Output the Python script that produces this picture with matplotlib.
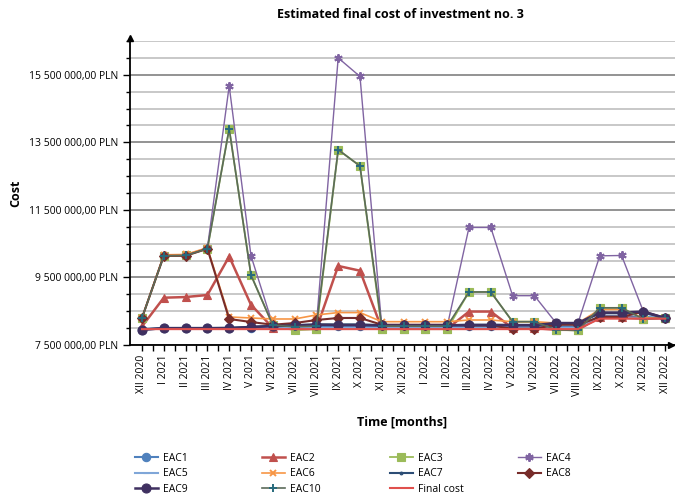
import numpy as np
import matplotlib
matplotlib.use("Agg")
import matplotlib.pyplot as plt
from matplotlib.ticker import FixedLocator, FuncFormatter, MultipleLocator

plt.rcParams["font.family"] = ["Open Sans", "DejaVu Sans"]

months = [
    "XII 2020", "I 2021", "II 2021", "III 2021", "IV 2021", "V 2021",
    "VI 2021", "VII 2021", "VIII 2021", "IX 2021", "X 2021", "XI 2021",
    "XII 2021", "I 2022", "II 2022", "III 2022", "IV 2022", "V 2022",
    "VI 2022", "VII 2022", "VIII 2022", "IX 2022", "X 2022", "XI 2022",
    "XII 2022",
]

# estimates in millions of PLN
eac1 = [7.95, 7.99, 7.99, 7.99, 7.99, 8.01, 8.03, 8.04, 8.05, 8.06, 8.06, 8.05, 8.05,
        8.05, 8.05, 8.06, 8.06, 8.04, 8.04, 8.05, 8.05, 8.36, 8.36, 8.33, 8.30]
eac2 = [8.05, 8.90, 8.92, 8.98, 10.12, 8.69, 8.01, 7.97, 7.98, 9.84, 9.70, 7.98, 7.98,
        7.98, 7.98, 8.49, 8.49, 8.00, 8.00, 7.95, 7.95, 8.33, 8.33, 8.27, 8.30]
eac3 = [8.30, 10.14, 10.15, 10.35, 13.90, 9.57, 8.09, 7.94, 7.97, 13.28, 12.80, 7.97, 7.97,
        7.97, 7.97, 9.07, 9.07, 8.19, 8.19, 7.95, 7.93, 8.60, 8.60, 8.27, 8.30]
eac4 = [8.30, 10.17, 10.17, 10.37, 15.17, 10.14, 8.10, 8.06, 8.10, 16.00, 15.45, 8.05, 8.05,
        8.05, 8.05, 10.98, 10.98, 8.96, 8.96, 8.15, 8.15, 10.14, 10.15, 8.49, 8.30]
eac5 = [7.98, 7.99, 7.99, 7.99, 7.99, 8.00, 8.00, 8.00, 8.00, 8.01, 8.01, 8.00, 8.00,
        8.00, 8.00, 8.01, 8.01, 8.00, 8.00, 8.00, 8.00, 8.30, 8.30, 8.28, 8.30]
eac6 = [8.30, 10.17, 10.18, 10.38, 8.33, 8.30, 8.27, 8.27, 8.39, 8.46, 8.46, 8.19, 8.19,
        8.19, 8.19, 8.24, 8.24, 8.19, 8.19, 8.15, 8.15, 8.55, 8.55, 8.30, 8.30]
eac7 = [7.96, 8.00, 8.00, 8.00, 8.01, 8.04, 8.07, 8.09, 8.11, 8.11, 8.11, 8.09, 8.09,
        8.09, 8.09, 8.10, 8.10, 8.09, 8.09, 8.14, 8.14, 8.44, 8.44, 8.45, 8.30]
eac8 = [8.30, 10.14, 10.14, 10.35, 8.27, 8.18, 8.10, 8.15, 8.24, 8.30, 8.30, 8.10, 8.10,
        8.10, 8.10, 8.08, 8.08, 7.98, 7.98, 8.10, 8.10, 8.33, 8.33, 8.49, 8.30]
eac9 = [7.95, 8.00, 8.00, 8.00, 8.00, 8.03, 8.06, 8.08, 8.10, 8.09, 8.09, 8.08, 8.08,
        8.08, 8.08, 8.09, 8.09, 8.09, 8.09, 8.15, 8.15, 8.46, 8.46, 8.49, 8.30]
eac10 = [8.30, 10.14, 10.15, 10.35, 13.90, 9.57, 8.09, 8.04, 8.06, 13.28, 12.80, 8.06, 8.06,
         8.06, 8.06, 9.07, 9.07, 8.19, 8.19, 7.95, 7.93, 8.60, 8.60, 8.27, 8.30]
final_cost = [7.97, 7.97, 7.97, 7.97, 7.97, 7.97, 7.97, 7.97, 7.97, 7.97, 7.97, 7.97, 7.97,
              7.97, 7.97, 7.97, 7.97, 7.97, 7.97, 7.97, 7.97, 8.28, 8.28, 8.28, 8.28]

# (label, values, colour, marker, marker size, line width)
series = [
    ("EAC1", eac1, "#4F81BD", "o", 6.0, 1.5),
    ("EAC2", eac2, "#C0504D", "^", 6.0, 1.8),
    ("EAC3", eac3, "#9BBB59", "s", 5.5, 1.3),
    ("EAC4", eac4, "#8064A2", (6, 2, 0), 6.0, 1.0),
    ("EAC5", eac5, "#7FA6D8", "_", 5.0, 1.5),
    ("EAC6", eac6, "#F79646", "x", 5.0, 1.2),
    ("EAC7", eac7, "#2C4D75", ".", 4.0, 1.5),
    ("EAC8", eac8, "#772C2A", "D", 5.0, 1.5),
    ("EAC9", eac9, "#3F3060", "o", 6.5, 1.8),
    ("EAC10", eac10, "#5B6B5A", "+", 6.0, 1.2),
    ("Final cost", final_cost, "#E0504D", "None", 0, 1.5),
]

fig = plt.figure(figsize=(6.75, 4.96), dpi=100)
ax = fig.add_axes([130 / 675, 1 - 345 / 496, 545 / 675, 304 / 496])

x = np.arange(len(months))
handles = {}
for label, vals, color, marker, ms, lw in series:
    y = np.array(vals) * 1e6
    mec = color
    if label == "EAC10":
        mec = "#276A7C"
    (h,) = ax.plot(x, y, color=color, lw=lw, marker=marker, ms=ms,
                   mfc=color, mec=mec, mew=1.4 if marker in ("x", "+", (6, 2, 0)) else 0.8,
                   label=label, clip_on=False)
    handles[label] = h

ax.set_xlim(-0.55, 24.45)
ax.set_ylim(7.5e6, 16.5e6)

ax.yaxis.set_major_locator(FixedLocator(np.arange(7.5e6, 16.6e6, 2e6)))
ax.yaxis.set_minor_locator(MultipleLocator(0.5e6))


def pln(v, pos):
    s = f"{v:,.2f}".replace(",", " ").replace(".", ",")
    return s + " PLN"


ax.yaxis.set_major_formatter(FuncFormatter(pln))
ax.grid(axis="y", which="major", color="#8a8a8a", lw=1.3, zorder=0)
ax.grid(axis="y", which="minor", color="#c4c4c4", lw=1.3, zorder=0)
ax.set_axisbelow(True)

ax.set_xticks(x)
ax.set_xticklabels(months, rotation=90, fontsize=7.5, va="top")
ax.xaxis.set_minor_locator(FixedLocator(x + 0.5))
ax.tick_params(axis="x", which="both", direction="out", length=4, width=1, pad=3)
ax.tick_params(axis="y", which="major", direction="out", length=5, width=1, labelsize=7.5)
ax.tick_params(axis="y", which="minor", direction="out", length=3, width=1)

for side in ("top", "right"):
    ax.spines[side].set_visible(False)
for side in ("left", "bottom"):
    ax.spines[side].set_linewidth(1.3)
    ax.spines[side].set_color("black")

# arrow heads at the ends of both axes
ax.plot(0, 1.01, marker="^", color="black", ms=5, transform=ax.transAxes, clip_on=False)
ax.plot(0.993, 0, marker=">", color="black", ms=5, transform=ax.transAxes, clip_on=False)

ax.set_ylabel("Cost", fontsize=9, fontweight="bold", labelpad=5)
ax.set_xlabel("Time [months]", fontsize=9, fontweight="bold", labelpad=14)
fig.text(400 / 675, 1 - 14 / 496, "Estimated final cost of investment no. 3",
         fontsize=9, fontweight="bold", ha="center", va="center")

# legend laid out as four evenly spaced columns
columns = [["EAC1", "EAC5", "EAC9"], ["EAC2", "EAC6", "EAC10"],
           ["EAC3", "EAC7", "Final cost"], ["EAC4", "EAC8"]]
col_x = [135, 262, 390, 518]
for names, cx in zip(columns, col_x):
    leg = fig.legend([handles[k] for k in names], names, loc="upper left",
                     bbox_to_anchor=(cx / 675, 1 - 453 / 496), frameon=False,
                     fontsize=7.5, handlelength=2.2, handletextpad=0.5,
                     labelspacing=0.42, borderpad=0, borderaxespad=0)

fig.savefig("out.png", dpi=100)
